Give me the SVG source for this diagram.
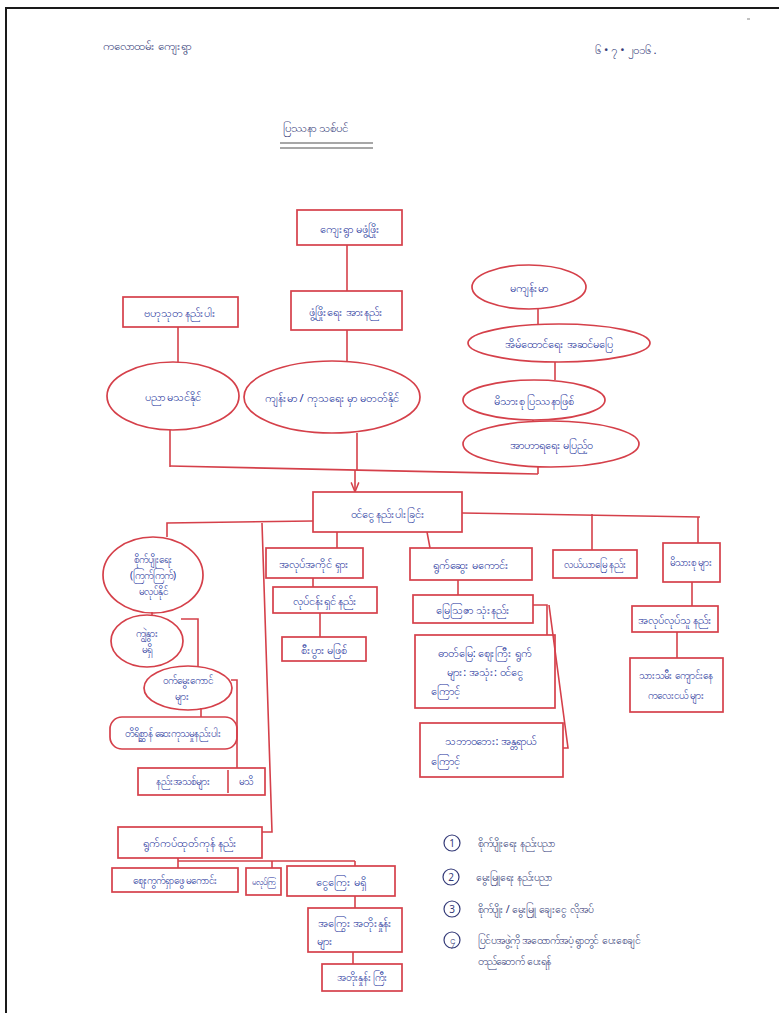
<svg xmlns="http://www.w3.org/2000/svg" width="779" height="1013" viewBox="0 0 779 1013">
<defs>
<style>
.bg{fill:#ffffff}
.frame{fill:none;stroke:#1a1a1a;stroke-width:2}
.box{fill:none;stroke:#d5404a;stroke-width:1.7}
.ln{fill:none;stroke:#d5404a;stroke-width:1.6}
.t{font-family:"Noto Sans","DejaVu Sans",sans-serif;font-size:11px;fill:#22309a;text-anchor:middle;dominant-baseline:central}
.s{font-size:10px}
.h{font-family:"Noto Sans","DejaVu Sans",sans-serif;font-size:11.5px;fill:#343a78;dominant-baseline:central}
.l{font-family:"Noto Sans","DejaVu Sans",sans-serif;font-size:10.5px;fill:#343a78;dominant-baseline:central}
.num{fill:none;stroke:#343a78;stroke-width:1.2}
.nt{font-family:"Noto Sans","Liberation Sans",sans-serif;font-size:10px;fill:#343a78;text-anchor:middle;dominant-baseline:central}
.ul{stroke:#8a8a8a;stroke-width:1.3}
</style>
<marker id="arr" viewBox="0 0 10 10" refX="9" refY="5" markerWidth="6" markerHeight="6" orient="auto">
<path d="M0,1 L10,5 L0,9" fill="none" stroke="#d5404a" stroke-width="1.5"/>
</marker>
</defs>
<rect class="bg" width="779" height="1013"/>
<path class="frame" d="M5,8 H779 M6,8 V1013"/>
<path d="M747,19 h3" stroke="#999" stroke-width="1.2"/>

<g id="header">
<text class="h" x="103" y="45">ကလောထမ်း ကျေးရွာ</text>
<text class="h" x="595" y="49">၆ • ၇ • ၂၀၁၆ .</text>
<text class="h" x="283" y="127">ပြဿနာ သစ်ပင်</text>
<line class="ul" x1="280" y1="143" x2="373" y2="143"/>
<line class="ul" x1="280" y1="148" x2="373" y2="148"/>
</g>

<g id="connectors">
<path class="ln" d="M347,245 V291"/>
<path class="ln" d="M347,330 V361"/>
<path class="ln" d="M178,327 V362"/>
<path class="ln" d="M170,430 V467"/>
<path class="ln" d="M170,466 L538,474"/>
<path class="ln" d="M357,433 V470"/>
<path class="ln" d="M538,467 V474"/>
<path class="ln" d="M538,309 V325"/>
<path class="ln" d="M555,362 V380"/>
<path class="ln" d="M533,420 V422"/>
<path class="ln" d="M355,470 V491" marker-end="url(#arr)"/>
<path class="ln" d="M313,521 L167,523 V537"/>
<path class="ln" d="M262,523 L272,832 H262"/>
<path class="ln" d="M337,532 V548"/>
<path class="ln" d="M427,532 L430,548"/>
<path class="ln" d="M313,578 V587"/>
<path class="ln" d="M320,613 V637"/>
<path class="ln" d="M462,513 L700,517"/>
<path class="ln" d="M592,514 V550"/>
<path class="ln" d="M698,517 V543"/>
<path class="ln" d="M458,580 V595"/>
<path class="ln" d="M533,605 H547 V635"/>
<path class="ln" d="M549,605 L568,748 H563"/>
<path class="ln" d="M692,582 V606"/>
<path class="ln" d="M677,632 V658"/>
<path class="ln" d="M152,612 V616"/>
<path class="ln" d="M181,619 H198 V666"/>
<path class="ln" d="M201,708 V717"/>
<path class="ln" d="M231,680 H237 V768"/>
<path class="ln" d="M178,858 V868"/>
<path class="ln" d="M178,861 H355"/>
<path class="ln" d="M272,861 V868"/>
<path class="ln" d="M355,861 V866"/>
<path class="ln" d="M355,896 V908"/>
<path class="ln" d="M353,952 V964"/>
</g>

<g id="n1"><rect class="box" x="297" y="210" width="105" height="35"/><text class="t" x="350" y="228">ကျေးရွာ မဖွံ့ဖြိုး</text></g>
<g id="n2"><rect class="box" x="291" y="291" width="111" height="39"/><text class="t" x="346" y="311">ဖွံ့ဖြိုးရေး အားနည်း</text></g>
<g id="n3"><rect class="box" x="123" y="297" width="115" height="30"/><text class="t" x="180" y="312">ဗဟုသုတ နည်းပါး</text></g>
<g id="n4"><ellipse class="box" cx="173" cy="396" rx="66" ry="34"/><text class="t" x="173" y="396">ပညာ မသင်နိုင်</text></g>
<g id="n5"><ellipse class="box" cx="332" cy="397" rx="88" ry="36"/><text class="t" x="332" y="397">ကျန်းမာ / ကုသရေး မှာ မတတ်နိုင်</text></g>
<g id="n6"><ellipse class="box" cx="529" cy="287" rx="57" ry="22"/><text class="t" x="529" y="287">မကျန်းမာ</text></g>
<g id="n7"><ellipse class="box" cx="559" cy="343" rx="91" ry="19"/><text class="t" x="559" y="343">အိမ်ထောင်ရေး အဆင်မပြေ</text></g>
<g id="n8"><ellipse class="box" cx="534" cy="400" rx="71" ry="20"/><text class="t" x="534" y="400">မိသားစု ပြဿနာဖြစ်</text></g>
<g id="n9"><ellipse class="box" cx="551" cy="444" rx="88" ry="23"/><text class="t" x="551" y="444">အာဟာရရေး မပြည့်ဝ</text></g>

<g id="core"><rect class="box" x="313" y="492" width="149" height="40"/><text class="t" x="388" y="513">ဝင်ငွေ နည်းပါးခြင်း</text></g>

<g id="c1"><ellipse class="box" cx="153" cy="575" rx="50" ry="38"/><text class="t s" x="153" y="559">စိုက်ပျိုးရေး</text><text class="t s" x="153" y="575">(ကြက်ကြက်)</text><text class="t s" x="153" y="591">မလုပ်နိုင်</text></g>
<g id="c2"><ellipse class="box" cx="147" cy="641" rx="36" ry="26"/><text class="t s" x="147" y="633">ကျွဲနွား</text><text class="t s" x="147" y="649">မရှိ</text></g>
<g id="c3"><ellipse class="box" cx="188" cy="688" rx="44" ry="22"/><text class="t s" x="188" y="680">ဝက်မွေးကောင်</text><text class="t s" x="182" y="696">များ</text></g>
<g id="c4"><rect class="box" x="110" y="717" width="127" height="32" rx="12"/><text class="t s" x="173" y="733">တိရိစ္ဆာန် ဆေးကုသမှုနည်းပါး</text></g>
<g id="c5"><rect class="box" x="138" y="768" width="127" height="27"/><line class="ln" x1="228" y1="770" x2="228" y2="793"/><text class="t s" x="183" y="781">နည်းအသစ်များ</text><text class="t s" x="246" y="781">မသိ</text></g>
<g id="c6"><rect class="box" x="266" y="548" width="97" height="30"/><text class="t" x="314" y="563">အလုပ်အကိုင် ရှား</text></g>
<g id="c7"><rect class="box" x="273" y="587" width="104" height="26"/><text class="t" x="325" y="600">လုပ်ငန်းရှင် နည်း</text></g>
<g id="c8"><rect class="box" x="282" y="637" width="84" height="24"/><text class="t" x="324" y="649">စီးပွား မဖြစ်</text></g>
<g id="c9"><rect class="box" x="410" y="548" width="122" height="32"/><text class="t" x="471" y="564">ရွက်ဆွေး မကောင်း</text></g>
<g id="c10"><rect class="box" x="413" y="595" width="120" height="28"/><text class="t" x="473" y="609">မြေဩဇာ သုံးနည်း</text></g>
<g id="c11"><rect class="box" x="415" y="635" width="140" height="73"/><text class="t" x="485" y="652">ဓာတ်မြေ: ဈေးကြီး ရွက်</text><text class="t" x="485" y="671">များ: အသုံး: ဝင်ငွေ</text><text class="t" x="445" y="690">ကြောင့်</text></g>
<g id="c12"><rect class="box" x="420" y="723" width="143" height="54"/><text class="t" x="491" y="740">သဘာဝဘေး: အန္တရာယ်</text><text class="t" x="445" y="760">ကြောင့်</text></g>
<g id="c13"><rect class="box" x="553" y="550" width="84" height="28"/><text class="t s" x="595" y="564">လယ်ယာမြေ နည်း</text></g>
<g id="c14"><rect class="box" x="663" y="543" width="57" height="39"/><text class="t s" x="691" y="562">မိသားစု များ</text></g>
<g id="c15"><rect class="box" x="632" y="606" width="86" height="26"/><text class="t" x="675" y="619">အလုပ်လုပ်သူ နည်း</text></g>
<g id="c16"><rect class="box" x="630" y="658" width="93" height="54"/><text class="t s" x="676" y="675">သားသမီး ကျောင်းနေ</text><text class="t s" x="676" y="695">ကလေးငယ် များ</text></g>
<g id="c17"><rect class="box" x="118" y="827" width="144" height="31"/><text class="t" x="190" y="842">ရွက်ကပ်ထုတ်ကုန် နည်း</text></g>
<g id="c18"><rect class="box" x="112" y="868" width="126" height="24"/><text class="t s" x="175" y="880">ဈေးကွက်ရှာဖွေ မကောင်း</text></g>
<g id="c19"><rect class="box" x="246" y="868" width="35" height="27"/><text class="t" x="263" y="881" style="font-size:8px">မလုပ်ကြ</text></g>
<g id="c20"><rect class="box" x="287" y="866" width="108" height="30"/><text class="t" x="341" y="881">ငွေကြေး မရှိ</text></g>
<g id="c21"><rect class="box" x="308" y="908" width="94" height="44"/><text class="t" x="355" y="922">အကြွေး အတိုးနှုန်း</text><text class="t" x="325" y="940">များ</text></g>
<g id="c22"><rect class="box" x="322" y="964" width="80" height="27"/><text class="t s" x="362" y="977">အတိုးနှုန်း ကြီး</text></g>

<g id="list">
<circle class="num" cx="452" cy="843" r="8"/><text class="nt" x="452" y="843">1</text><text class="l" x="478" y="843">စိုက်ပျိုးရေး နည်းပညာ</text>
<circle class="num" cx="451" cy="877" r="8"/><text class="nt" x="451" y="877">2</text><text class="l" x="476" y="877">မွေးမြူရေး နည်းပညာ</text>
<circle class="num" cx="452" cy="909" r="8"/><text class="nt" x="452" y="909">3</text><text class="l" x="478" y="909">စိုက်ပျိုး / မွေးမြူ ချေးငွေ လိုအပ်</text>
<circle class="num" cx="452" cy="940" r="8"/><text class="nt" x="452" y="940">၄</text><text class="l" x="478" y="940">ပြင်ပအဖွဲ့ကို အထောက်အပံ့ ရွာတွင် ပေးစေချင်</text>
<text class="l" x="478" y="961">တည်ဆောက် ပေးရန်</text>
</g>
</svg>
